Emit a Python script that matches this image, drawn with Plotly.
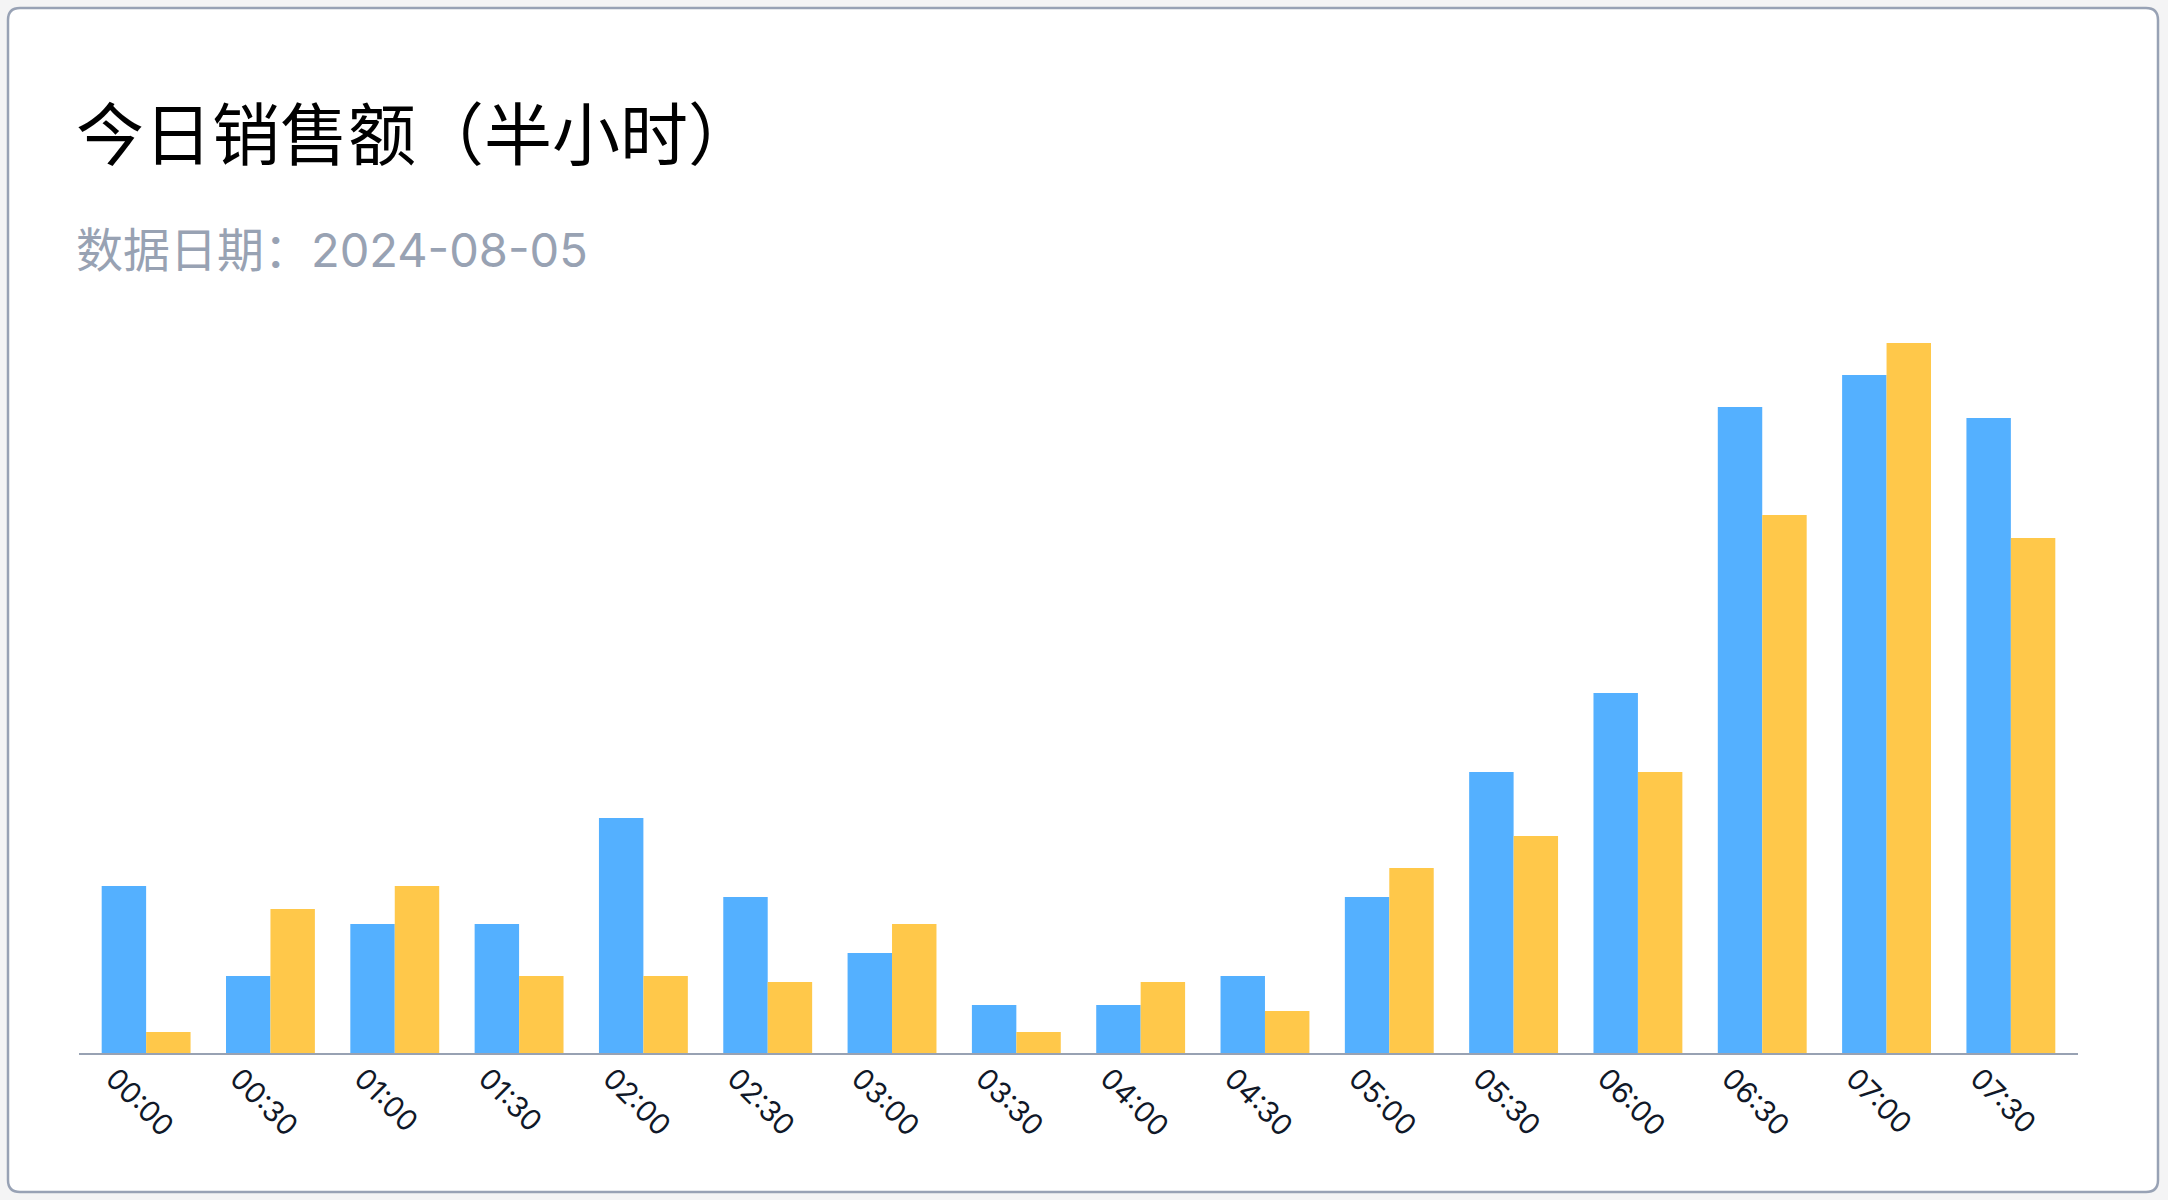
import plotly.graph_objects as go

# ---- data ----
times = ["00:00", "00:30", "01:00", "01:30", "02:00", "02:30", "03:00", "03:30",
         "04:00", "04:30", "05:00", "05:30", "06:00", "06:30", "07:00", "07:30"]
series_a = [167, 77, 129, 129, 235, 156, 100, 48, 48, 77, 156, 281, 360, 646, 678, 635]
series_b = [21, 144, 167, 77, 77, 71, 129, 21, 71, 42, 185, 217, 281, 538, 710, 515]
title_text = "今日销售额（半小时）"
subtitle_text = "数据日期：2024-08-05"

# ---- layout geometry (pixels) ----
W, H = 2168, 1200
ML, MR, MT, MB = 79, 90, 253, 147
PW, PH = W - ML - MR, H - MT - MB


def px(x):
    return (x - ML) / PW


def py(y):
    return (H - MB - y) / PH


fig = go.Figure()
fig.add_trace(go.Bar(x=times, y=series_a, marker=dict(color="#54B0FF", line=dict(width=0)),
                     name="A"))
fig.add_trace(go.Bar(x=times, y=series_b, marker=dict(color="#FFC84A", line=dict(width=0)),
                     name="B"))

# card with rounded corners
x0, y0, x1, y1, r = 8, 8, 2158, 1192, 12
rx, ry = r / PW, r / PH
path = (f"M {px(x0)+rx} {py(y0)} L {px(x1)-rx} {py(y0)} "
        f"Q {px(x1)} {py(y0)} {px(x1)} {py(y0)-ry} "
        f"L {px(x1)} {py(y1)+ry} Q {px(x1)} {py(y1)} {px(x1)-rx} {py(y1)} "
        f"L {px(x0)+rx} {py(y1)} Q {px(x0)} {py(y1)} {px(x0)} {py(y1)+ry} "
        f"L {px(x0)} {py(y0)-ry} Q {px(x0)} {py(y0)} {px(x0)+rx} {py(y0)} Z")
fig.add_shape(type="path", path=path, xref="paper", yref="paper",
              fillcolor="#FFFFFF", line=dict(color="#98A2B5", width=2.5), layer="below")

fig.add_annotation(text=title_text, xref="paper", yref="paper", x=px(74), y=py(131),
                   xanchor="left", yanchor="middle", showarrow=False,
                   font=dict(family="Noto Sans CJK SC", size=68, color="#000000"))
fig.add_annotation(text=subtitle_text, xref="paper", yref="paper", x=px(74), y=py(249),
                   xanchor="left", yanchor="middle", showarrow=False,
                   font=dict(family="Inter, Noto Sans CJK SC", size=47, color="#98A2B3"))

fig.update_layout(
    width=W, height=H,
    margin=dict(l=ML, r=MR, t=MT, b=MB, pad=0),
    paper_bgcolor="#F4F4F5",
    plot_bgcolor="rgba(0,0,0,0)",
    showlegend=False,
    barmode="group",
    bargap=0.285,
    bargroupgap=0,
    xaxis=dict(
        range=[-0.54, 15.54],
        showgrid=False, zeroline=False,
        showline=True, linecolor="#98A2B3", linewidth=2,
        ticks="", tickangle=45,
        tickfont=dict(family="Inter", size=29, color="#101828"),
        ticklabelshift=-32, ticklabelstandoff=-5,
    ),
    yaxis=dict(range=[0, 800], visible=False),
)

fig.write_html("out.html")
